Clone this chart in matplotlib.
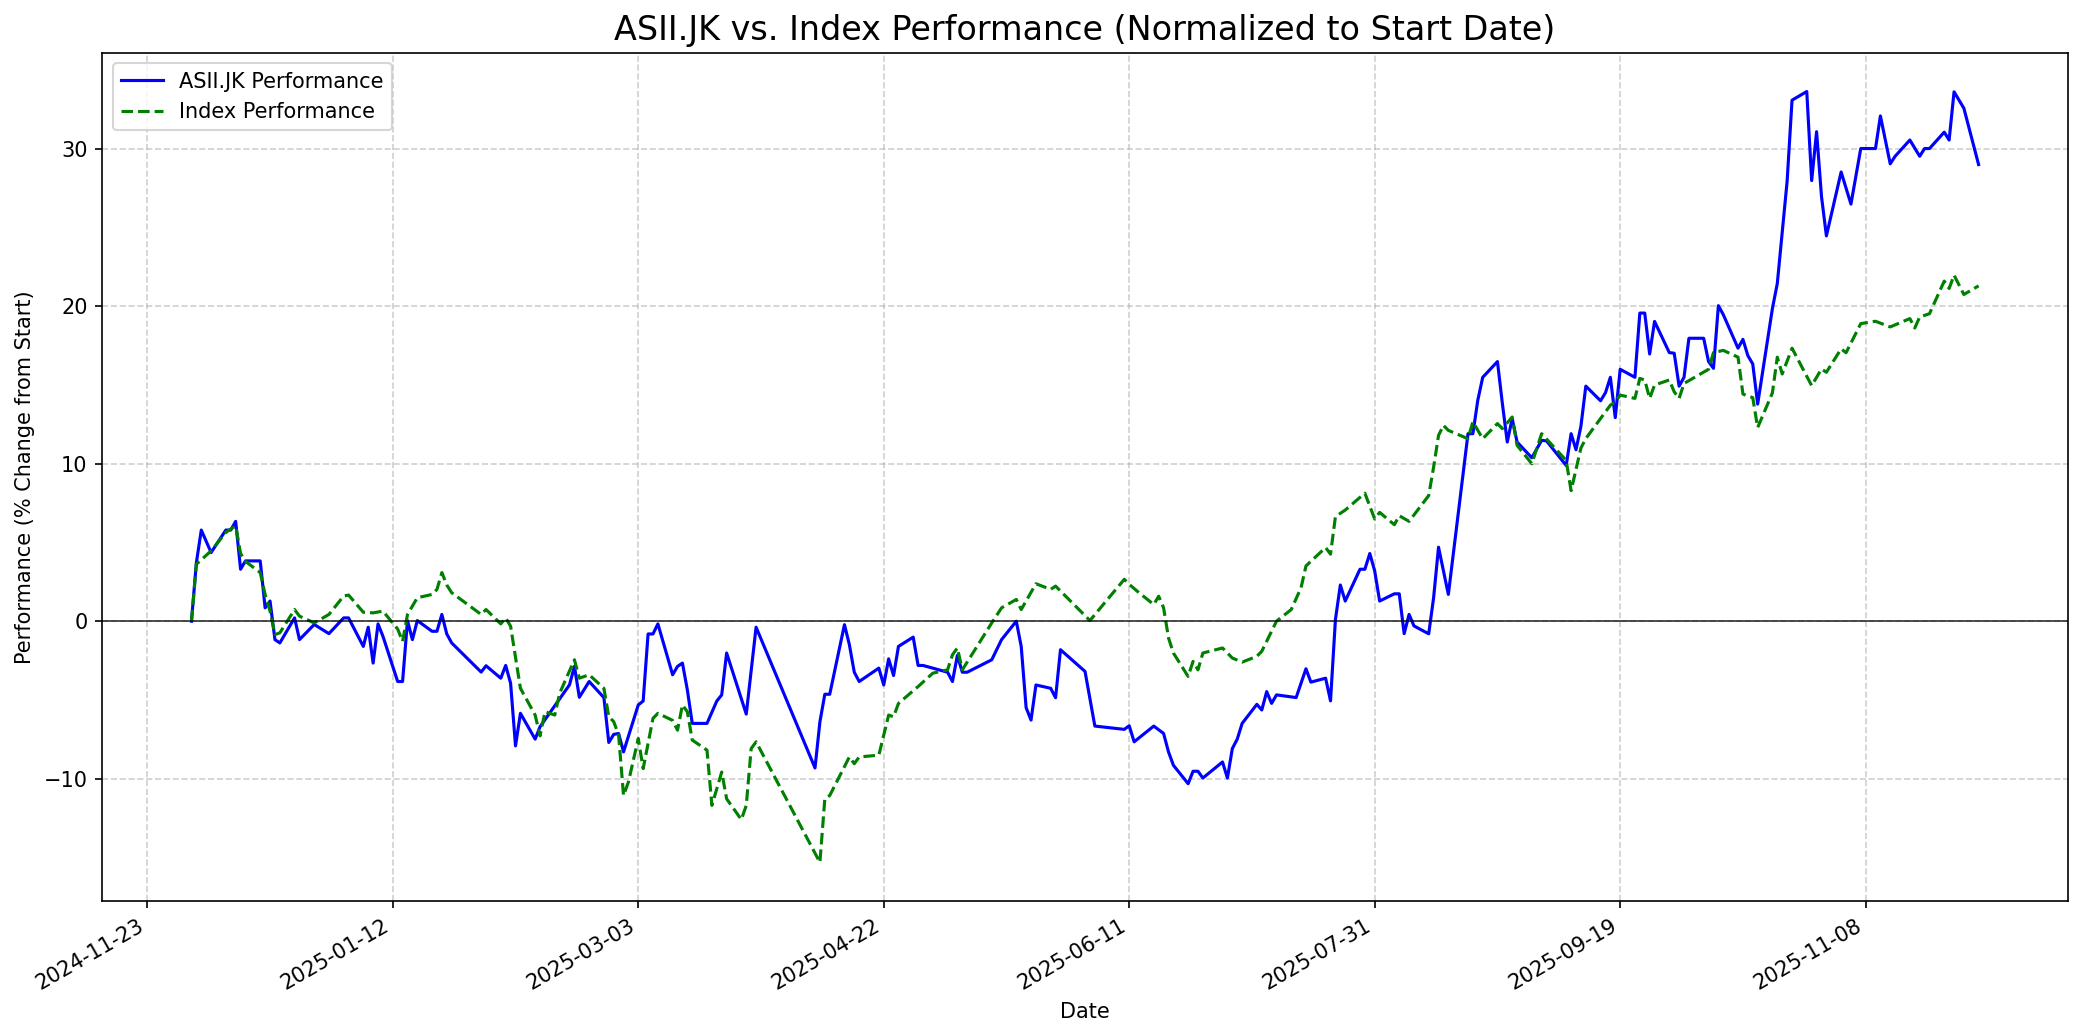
import matplotlib
matplotlib.use('Agg')
import matplotlib.pyplot as plt
import matplotlib.dates as mdates
import pandas as pd

# ASII.JK performance (% change from start)
asii_dates = [
    '2024-12-02', '2024-12-03', '2024-12-04', '2024-12-06', '2024-12-09', '2024-12-10', '2024-12-11',
    '2024-12-12', '2024-12-13', '2024-12-16', '2024-12-17', '2024-12-18', '2024-12-19', '2024-12-20',
    '2024-12-23', '2024-12-24', '2024-12-27', '2024-12-30', '2025-01-02', '2025-01-03', '2025-01-06',
    '2025-01-07', '2025-01-08', '2025-01-09', '2025-01-10', '2025-01-13', '2025-01-14', '2025-01-15',
    '2025-01-16', '2025-01-17', '2025-01-20', '2025-01-21', '2025-01-22', '2025-01-23', '2025-01-24',
    '2025-01-30', '2025-01-31', '2025-02-03', '2025-02-04', '2025-02-05', '2025-02-06', '2025-02-07',
    '2025-02-10', '2025-02-11', '2025-02-17', '2025-02-18', '2025-02-19', '2025-02-21', '2025-02-24',
    '2025-02-25', '2025-02-26', '2025-02-27', '2025-02-28', '2025-03-03', '2025-03-04', '2025-03-05',
    '2025-03-06', '2025-03-07', '2025-03-10', '2025-03-11', '2025-03-12', '2025-03-13', '2025-03-14',
    '2025-03-17', '2025-03-19', '2025-03-20', '2025-03-21', '2025-03-25', '2025-03-27', '2025-04-08',
    '2025-04-09', '2025-04-10', '2025-04-11', '2025-04-14', '2025-04-15', '2025-04-16', '2025-04-17',
    '2025-04-21', '2025-04-22', '2025-04-23', '2025-04-24', '2025-04-25', '2025-04-28', '2025-04-29',
    '2025-04-30', '2025-05-05', '2025-05-06', '2025-05-07', '2025-05-08', '2025-05-09', '2025-05-14',
    '2025-05-16', '2025-05-19', '2025-05-20', '2025-05-21', '2025-05-22', '2025-05-23', '2025-05-26',
    '2025-05-27', '2025-05-28', '2025-06-02', '2025-06-04', '2025-06-10', '2025-06-11', '2025-06-12',
    '2025-06-16', '2025-06-18', '2025-06-19', '2025-06-20', '2025-06-23', '2025-06-24', '2025-06-25',
    '2025-06-26', '2025-06-30', '2025-07-01', '2025-07-02', '2025-07-03', '2025-07-04', '2025-07-07',
    '2025-07-08', '2025-07-09', '2025-07-10', '2025-07-11', '2025-07-15', '2025-07-17', '2025-07-18',
    '2025-07-21', '2025-07-22', '2025-07-23', '2025-07-24', '2025-07-25', '2025-07-28', '2025-07-29',
    '2025-07-30', '2025-07-31', '2025-08-01', '2025-08-04', '2025-08-05', '2025-08-06', '2025-08-07',
    '2025-08-08', '2025-08-11', '2025-08-12', '2025-08-13', '2025-08-15', '2025-08-19', '2025-08-20',
    '2025-08-21', '2025-08-22', '2025-08-25', '2025-08-26', '2025-08-27', '2025-08-28', '2025-08-29',
    '2025-09-01', '2025-09-03', '2025-09-04', '2025-09-08', '2025-09-09', '2025-09-10', '2025-09-11',
    '2025-09-12', '2025-09-15', '2025-09-16', '2025-09-17', '2025-09-18', '2025-09-19', '2025-09-22',
    '2025-09-23', '2025-09-24', '2025-09-25', '2025-09-26', '2025-09-29', '2025-09-30', '2025-10-01',
    '2025-10-02', '2025-10-03', '2025-10-06', '2025-10-07', '2025-10-08', '2025-10-09', '2025-10-10',
    '2025-10-13', '2025-10-14', '2025-10-15', '2025-10-16', '2025-10-17', '2025-10-20', '2025-10-21',
    '2025-10-23', '2025-10-24', '2025-10-27', '2025-10-28', '2025-10-29', '2025-10-30', '2025-10-31',
    '2025-11-03', '2025-11-05', '2025-11-07', '2025-11-10', '2025-11-11', '2025-11-13', '2025-11-14',
    '2025-11-17', '2025-11-19', '2025-11-20', '2025-11-21', '2025-11-24', '2025-11-25', '2025-11-26',
    '2025-11-28', '2025-12-01',
]
asii_perf = [
    0.0, 3.72, 5.79, 4.36, 5.79, 5.79, 6.34,
    3.30, 3.83, 3.83, 0.85, 1.28, -1.17, -1.38,
    0.21, -1.17, -0.21, -0.79, 0.21, 0.21, -1.60,
    -0.38, -2.66, -0.17, -0.96, -3.83, -3.83, 0.04,
    -1.17, 0.04, -0.64, -0.64, 0.43, -0.81, -1.38,
    -3.23, -2.83, -3.62, -2.81, -3.94, -7.92, -5.85,
    -7.49, -6.70, -4.04, -2.87, -4.83, -3.83, -4.85,
    -7.70, -7.19, -7.13, -8.30, -5.32, -5.07, -0.81,
    -0.81, -0.17, -3.40, -2.87, -2.66, -4.36, -6.49,
    -6.49, -5.07, -4.68, -2.02, -5.90, -0.38, -9.32,
    -6.39, -4.64, -4.64, -0.22, -1.49, -3.24, -3.83,
    -2.98, -4.05, -2.39, -3.45, -1.60, -1.01, -2.81,
    -2.81, -3.24, -3.83, -2.17, -3.24, -3.24, -2.45,
    -1.17, 0.0, -1.60, -5.49, -6.28, -4.05, -4.26,
    -4.86, -1.81, -3.19, -6.66, -6.87, -6.64, -7.66,
    -6.66, -7.13, -8.30, -9.15, -10.32, -9.53, -9.53,
    -9.96, -8.94, -9.96, -8.09, -7.49, -6.49, -5.28,
    -5.64, -4.47, -5.22, -4.68, -4.85, -3.02, -3.87,
    -3.62, -5.06, 0.11, 2.30, 1.28, 3.30, 3.30,
    4.30, 3.19, 1.28, 1.74, 1.74, -0.79, 0.43,
    -0.30, -0.80, 1.50, 4.70, 1.70, 11.91, 11.91,
    14.04, 15.49, 16.49, 13.83, 11.38, 12.87, 11.38,
    10.38, 11.49, 11.45, 9.89, 11.91, 10.89, 12.38,
    14.93, 14.00, 14.51, 15.49, 12.93, 16.00, 15.49,
    19.57, 19.57, 16.97, 19.04, 17.06, 17.02, 14.93,
    15.49, 17.97, 17.97, 16.49, 16.06, 20.04, 19.47,
    17.34, 17.90, 16.87, 16.34, 13.79, 19.85, 21.45,
    27.94, 33.09, 33.64, 27.98, 31.09, 26.98, 24.47,
    28.53, 26.49, 30.02, 30.02, 32.09, 29.05, 29.53,
    30.56, 29.53, 30.02, 30.02, 31.06, 30.56, 33.62,
    32.58, 29.00,
]

# Index performance (% change from start)
index_dates = [
    '2024-12-02', '2024-12-03', '2024-12-04', '2024-12-06', '2024-12-09', '2024-12-11', '2024-12-12',
    '2024-12-13', '2024-12-16', '2024-12-17', '2024-12-18', '2024-12-19', '2024-12-20', '2024-12-23',
    '2024-12-24', '2024-12-27', '2024-12-30', '2025-01-02', '2025-01-03', '2025-01-06', '2025-01-08',
    '2025-01-10', '2025-01-13', '2025-01-14', '2025-01-15', '2025-01-17', '2025-01-20', '2025-01-21',
    '2025-01-22', '2025-01-23', '2025-01-24', '2025-01-30', '2025-01-31', '2025-02-03', '2025-02-04',
    '2025-02-05', '2025-02-07', '2025-02-10', '2025-02-11', '2025-02-12', '2025-02-14', '2025-02-15',
    '2025-02-18', '2025-02-19', '2025-02-21', '2025-02-24', '2025-02-25', '2025-02-26', '2025-02-27',
    '2025-02-28', '2025-03-01', '2025-03-03', '2025-03-04', '2025-03-06', '2025-03-07', '2025-03-10',
    '2025-03-11', '2025-03-12', '2025-03-13', '2025-03-14', '2025-03-17', '2025-03-18', '2025-03-20',
    '2025-03-21', '2025-03-24', '2025-03-25', '2025-03-26', '2025-03-27', '2025-04-09', '2025-04-10',
    '2025-04-11', '2025-04-15', '2025-04-16', '2025-04-17', '2025-04-21', '2025-04-23', '2025-04-24',
    '2025-04-25', '2025-04-29', '2025-05-02', '2025-05-05', '2025-05-06', '2025-05-07', '2025-05-08',
    '2025-05-14', '2025-05-16', '2025-05-19', '2025-05-20', '2025-05-23', '2025-05-26', '2025-05-27',
    '2025-06-03', '2025-06-06', '2025-06-10', '2025-06-11', '2025-06-13', '2025-06-16', '2025-06-17',
    '2025-06-18', '2025-06-19', '2025-06-20', '2025-06-23', '2025-06-24', '2025-06-25', '2025-06-26',
    '2025-06-30', '2025-07-02', '2025-07-04', '2025-07-07', '2025-07-08', '2025-07-11', '2025-07-14',
    '2025-07-16', '2025-07-17', '2025-07-21', '2025-07-22', '2025-07-23', '2025-07-25', '2025-07-29',
    '2025-07-31', '2025-08-01', '2025-08-04', '2025-08-05', '2025-08-07', '2025-08-11', '2025-08-12',
    '2025-08-13', '2025-08-14', '2025-08-15', '2025-08-19', '2025-08-20', '2025-08-22', '2025-08-25',
    '2025-08-26', '2025-08-28', '2025-08-29', '2025-09-01', '2025-09-03', '2025-09-08', '2025-09-09',
    '2025-09-11', '2025-09-12', '2025-09-17', '2025-09-18', '2025-09-19', '2025-09-22', '2025-09-23',
    '2025-09-24', '2025-09-25', '2025-09-26', '2025-09-29', '2025-09-30', '2025-10-01', '2025-10-02',
    '2025-10-07', '2025-10-08', '2025-10-10', '2025-10-13', '2025-10-14', '2025-10-15', '2025-10-16',
    '2025-10-17', '2025-10-20', '2025-10-21', '2025-10-22', '2025-10-24', '2025-10-28', '2025-10-30',
    '2025-10-31', '2025-11-03', '2025-11-04', '2025-11-07', '2025-11-10', '2025-11-13', '2025-11-17',
    '2025-11-18', '2025-11-19', '2025-11-21', '2025-11-24', '2025-11-25', '2025-11-26', '2025-11-28',
    '2025-12-01',
]
index_perf = [
    0.0, 3.62, 3.90, 4.47, 5.64, 6.06, 4.30,
    3.80, 3.09, 1.70, 0.64, -0.85, -0.74, 0.74,
    0.32, -0.11, 0.43, 1.60, 1.66, 0.57, 0.53,
    0.64, -0.50, -1.28, 0.43, 1.49, 1.70, 2.02,
    3.09, 2.30, 1.81, 0.43, 0.74, -0.17, 0.21,
    -0.32, -4.26, -5.96, -7.28, -5.75, -5.96, -4.57,
    -2.45, -3.62, -3.40, -4.26, -6.06, -6.38, -7.23,
    -11.07, -10.21, -7.45, -9.36, -6.17, -5.85, -6.30,
    -6.92, -5.32, -5.75, -7.55, -8.19, -11.70, -9.58,
    -11.28, -12.60, -11.70, -8.09, -7.66, -15.32, -11.28,
    -11.07, -8.62, -9.05, -8.62, -8.51, -5.96, -6.07,
    -5.22, -4.15, -3.30, -3.09, -2.13, -1.70, -3.09,
    -0.11, 0.85, 1.38, 0.74, 2.38, 2.02, 2.23,
    0.04, 1.17, 2.66, 2.34, 1.81, 1.06, 1.59,
    0.85, -1.06, -2.02, -3.51, -2.55, -3.09, -2.02,
    -1.70, -2.34, -2.60, -2.23, -1.91, 0.0, 0.74,
    2.13, 3.51, 4.68, 4.26, 6.64, 7.06, 8.13,
    6.49, 6.91, 6.13, 6.70, 6.34, 7.98, 9.79,
    11.80, 12.44, 12.12, 11.59, 12.66, 11.59, 12.55,
    12.23, 12.97, 11.17, 10.00, 11.91, 10.21, 8.29,
    11.00, 11.60, 13.72, 13.93, 14.36, 14.15, 15.42,
    15.32, 14.15, 15.00, 15.32, 14.57, 14.15, 15.10,
    16.00, 17.06, 17.20, 16.77, 14.43, 14.30, 14.20,
    12.30, 14.50, 16.77, 15.70, 17.34, 14.96, 16.02,
    15.81, 17.30, 17.05, 18.90, 19.05, 18.69, 19.22,
    18.62, 19.32, 19.53, 21.60, 21.13, 21.98, 20.75,
    21.30,
]

tick_dates = ['2024-11-23', '2025-01-12', '2025-03-03', '2025-04-22', '2025-06-11',
              '2025-07-31', '2025-09-19', '2025-11-08']

asii_x = pd.to_datetime(asii_dates)
index_x = pd.to_datetime(index_dates)

fig, ax = plt.subplots(figsize=(2084 / 150, 1035 / 150), dpi=150)
fig.subplots_adjust(left=0.049, right=0.9923, top=0.9488, bottom=0.1295)

ax.plot(asii_x, asii_perf, color='blue', linewidth=1.5, label='ASII.JK Performance')
ax.plot(index_x, index_perf, color='green', linestyle='--', linewidth=1.5, label='Index Performance')
ax.axhline(0, color='black', linewidth=0.8, alpha=0.8)

ax.set_title('ASII.JK vs. Index Performance (Normalized to Start Date)', fontsize=16)
ax.set_xlabel('Date')
ax.set_ylabel('Performance (% Change from Start)')
ax.grid(True, linestyle='--', alpha=0.6)
ax.legend(loc='upper left')

ax.set_xticks(pd.to_datetime(tick_dates))
ax.xaxis.set_major_formatter(mdates.DateFormatter('%Y-%m-%d'))
plt.setp(ax.get_xticklabels(), rotation=30, ha='right')

plt.savefig('out.png', dpi=150)
